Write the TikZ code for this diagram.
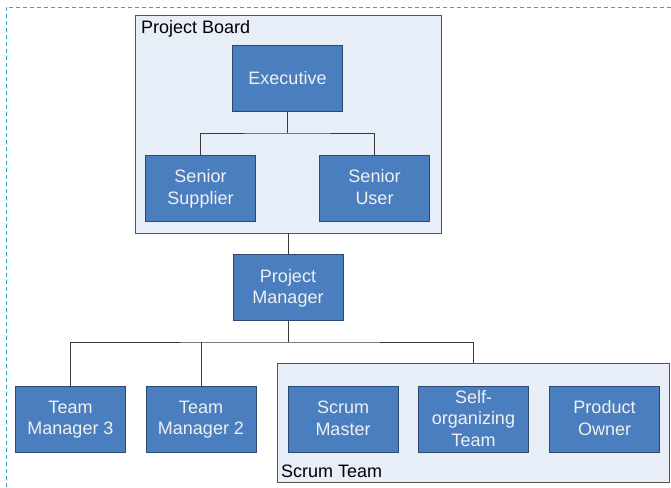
\documentclass[tikz,border=0pt]{standalone}
\usepackage{fontspec}
\setmainfont{Liberation Sans}
\usetikzlibrary{calc}
\definecolor{rolefill}{HTML}{4A7EBE}
\definecolor{roleline}{HTML}{2B4A70}
\definecolor{groupfill}{HTML}{E8EEF7}
\definecolor{groupline}{HTML}{555555}
\definecolor{linkline}{HTML}{3A3A3A}
\definecolor{pageline}{HTML}{2EA3DC}
\begin{document}
\begin{tikzpicture}[x=1pt,y=-1pt,
  role/.style={draw=roleline, line width=0.9pt, fill=rolefill, text=white!94!black,
    minimum width=110pt, minimum height=66pt, inner sep=0pt, align=center,
    text depth=2pt, font=\fontsize{18}{21.5}\selectfont},
  group/.style={draw=groupline, line width=0.9pt, fill=groupfill, inner sep=0pt},
  grouplabel/.style={anchor=base west, inner sep=0pt, font=\fontsize{18}{21.5}\selectfont},
  link/.style={draw=linkline, line width=1pt},
  pageedge/.style={draw=pageline, line width=0.8pt, dash pattern=on 4pt off 3pt}]
\useasboundingbox (0,0) rectangle (671,487);

% page edge guides
\coordinate (pgtl) at (6,7);
\coordinate (pgtr) at (671,7);
\coordinate (pgbl) at (6,487);
\draw[pageedge] (pgtr) -- (pgtl) -- (pgbl);

% containers
\node[group, minimum width=306pt, minimum height=218pt] (board) at (288,124) {};
\node[grouplabel] (boardlbl) at (141,34) {Project Board};
\node[group, minimum width=392pt, minimum height=119pt] (scrum) at (473,422.5) {};
\node[grouplabel] (scrumlbl) at (281,477) {Scrum Team};

% project board roles
\node[role] (exec) at (287.5,78.5) {Executive};
\node[role] (supplier) at (200.5,188) {Senior\\Supplier};
\node[role] (user) at (374.5,188) {Senior\\User};

% management
\node[role] (pm) at (288,287.5) {Project\\Manager};
\node[role] (tm3) at (70.5,419) {Team\\Manager 3};
\node[role] (tm2) at (201,419) {Team\\Manager 2};

% scrum team roles
\node[role] (sm) at (343,419) {Scrum\\Master};
\node[role] (sot) at (473.5,419) {Self-\\organizing\\Team};
\node[role] (po) at (604.5,419) {Product\\Owner};

% connectors
\coordinate (busA) at (287.5,133);
\draw[link] (exec.south) -- (busA);
\draw[link] (supplier.north) |- (busA) -| (user.north);
\draw[link] (board.south) -- (pm.north);
\coordinate (busB) at (288,342);
\draw[link] (pm.south) -- (busB);
\draw[link] (tm3.north) |- (busB) -| (scrum.north);
\draw[link] (tm2.north) -- (tm2.north |- busB);
\end{tikzpicture}
\end{document}
